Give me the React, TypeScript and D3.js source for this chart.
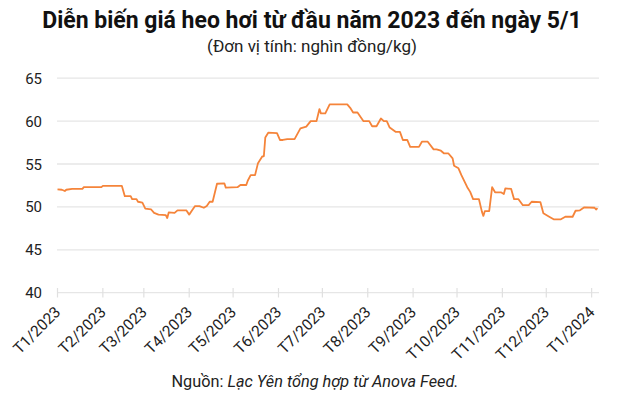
import React from "react";
import * as d3 from "d3";

const title = "Diễn biến giá heo hơi từ đầu năm 2023 đến ngày 5/1";
const subtitle = "(Đơn vị tính: nghìn đồng/kg)";
const sourceLabel = "Nguồn: ";
const sourceText = "Lạc Yên tổng hợp từ Anova Feed.";

const yTicks = [40, 45, 50, 55, 60, 65];
const xTickDates = [
  "2023-01-01", "2023-02-01", "2023-03-01", "2023-04-01", "2023-05-01", "2023-06-01",
  "2023-07-01", "2023-08-01", "2023-09-01", "2023-10-01", "2023-11-01", "2023-12-01", "2024-01-01",
];
const xTickLabels = [
  "T1/2023", "T2/2023", "T3/2023", "T4/2023", "T5/2023", "T6/2023",
  "T7/2023", "T8/2023", "T9/2023", "T10/2023", "T11/2023", "T12/2023", "T1/2024",
];

const dates = [
  "2023-01-01", "2023-01-04", "2023-01-06", "2023-01-07", "2023-01-11", "2023-01-18", "2023-01-19", "2023-01-31",
  "2023-02-01", "2023-02-14", "2023-02-16", "2023-02-20", "2023-02-21", "2023-02-24", "2023-02-25", "2023-02-28",
  "2023-03-02", "2023-03-06", "2023-03-08", "2023-03-11", "2023-03-16", "2023-03-17", "2023-03-18", "2023-03-22",
  "2023-03-24", "2023-03-30", "2023-04-01", "2023-04-03", "2023-04-05", "2023-04-08", "2023-04-11", "2023-04-13",
  "2023-04-15", "2023-04-17", "2023-04-20", "2023-04-25", "2023-04-26", "2023-05-04", "2023-05-06", "2023-05-10",
  "2023-05-11", "2023-05-13", "2023-05-16", "2023-05-18", "2023-05-21", "2023-05-22", "2023-05-23", "2023-05-25",
  "2023-05-31", "2023-06-02", "2023-06-04", "2023-06-07", "2023-06-12", "2023-06-16", "2023-06-20", "2023-06-23",
  "2023-06-27", "2023-06-29", "2023-06-30", "2023-07-03", "2023-07-06", "2023-07-18", "2023-07-20", "2023-07-22",
  "2023-07-25", "2023-07-29", "2023-08-02", "2023-08-04", "2023-08-07", "2023-08-10", "2023-08-12", "2023-08-14",
  "2023-08-16", "2023-08-20", "2023-08-23", "2023-08-25", "2023-08-28", "2023-08-30", "2023-09-05", "2023-09-07",
  "2023-09-11", "2023-09-15", "2023-09-17", "2023-09-20", "2023-09-22", "2023-09-25", "2023-09-28", "2023-09-29",
  "2023-10-02", "2023-10-04", "2023-10-08", "2023-10-10", "2023-10-12", "2023-10-16", "2023-10-18", "2023-10-19",
  "2023-10-20", "2023-10-23", "2023-10-25", "2023-10-27", "2023-10-31", "2023-11-02", "2023-11-03", "2023-11-07",
  "2023-11-09", "2023-11-12", "2023-11-15", "2023-11-19", "2023-11-21", "2023-11-27", "2023-11-29", "2023-12-03",
  "2023-12-06", "2023-12-11", "2023-12-14", "2023-12-19", "2023-12-21", "2023-12-24", "2023-12-27", "2024-01-03",
  "2024-01-04", "2024-01-05",
];
const prices = [
  52.05, 52.0, 51.85, 52.0, 52.1, 52.1, 52.3, 52.3,
  52.45, 52.45, 51.25, 51.25, 50.9, 50.9, 50.6, 50.5,
  49.8, 49.7, 49.3, 49.1, 49.05, 48.7, 49.35, 49.3,
  49.6, 49.6, 49.1, 49.6, 50.1, 50.1, 49.9, 50.1,
  50.6, 50.6, 52.7, 52.75, 52.25, 52.3, 52.55, 52.55,
  53.05, 53.7, 53.7, 55.1, 55.9, 55.9, 58.1, 58.65,
  58.6, 57.8, 57.8, 57.9, 57.9, 59.15, 59.35, 60.0,
  60.0, 61.4, 60.9, 60.9, 61.95, 61.95, 61.55, 61.0,
  61.0, 60.0, 60.0, 59.4, 59.4, 60.3, 60.0, 60.0,
  59.25, 58.75, 58.75, 57.8, 57.8, 57.0, 57.0, 57.6,
  57.6, 56.7, 56.7, 56.55, 56.25, 56.25, 55.65, 54.8,
  54.5, 53.7, 52.3, 51.75, 50.9, 50.9, 49.45, 48.95,
  49.5, 49.5, 52.3, 51.7, 51.7, 51.5, 52.15, 52.1,
  50.9, 50.9, 50.2, 50.2, 50.6, 50.55, 49.25, 48.85,
  48.55, 48.55, 48.85, 48.85, 49.55, 49.6, 49.95, 49.9,
  49.7, 49.85,
];

const W = 624;
const H = 415;
const parse = d3.timeParse("%Y-%m-%d");
const FONT = "Roboto, 'Noto Sans', sans-serif";

export default function App() {
  const x = d3
    .scaleTime()
    .domain([parse("2023-01-01")!, parse("2024-01-05")!])
    .range([57.5, 597.5]);
  const y = d3.scaleLinear().domain([40, 65]).range([292.7, 78.2]);
  const data = dates.map((d, i) => ({ date: parse(d)!, v: prices[i] }));
  const line = d3
    .line<{ date: Date; v: number }>()
    .x((d) => x(d.date))
    .y((d) => y(d.v));
  const gridX1 = 57;
  const gridX2 = 599;

  return (
    <svg
      width={W}
      height={H}
      style={{ position: "absolute", left: 0, top: 0, background: "#fff" }}
      fontFamily={FONT}
    >
      <text x={312} y={28} textAnchor="middle" fontSize={23} fontWeight={700} fill="#111">
        {title}
      </text>
      <text x={312} y={52} textAnchor="middle" fontSize={17} fill="#222">
        {subtitle}
      </text>
      {yTicks.map((t) => (
        <g key={t}>
          <line x1={gridX1} x2={gridX2} y1={y(t)} y2={y(t)} stroke="#e6e6e6" strokeWidth={1.3} />
          <text x={42} y={y(t) + 5.5} textAnchor="end" fontSize={15} fill="#222">
            {t}
          </text>
        </g>
      ))}
      {xTickDates.map((d, i) => {
        const px = x(parse(d)!);
        return (
          <g key={d}>
            <line x1={px} x2={px} y1={288} y2={297.5} stroke="#e0e0e0" strokeWidth={1.2} />
            <text
              transform={`translate(${px + 4},${313}) rotate(-45)`}
              textAnchor="end"
              fontSize={15.5}
              fill="#222"
            >
              {xTickLabels[i]}
            </text>
          </g>
        );
      })}
      <path d={line(data) || ""} fill="none" stroke="#f5843a" strokeWidth={1.8} strokeLinejoin="round" />
      <text x={315} y={387} textAnchor="middle" fontSize={16.3} fill="#222">
        {sourceLabel}
        <tspan fontStyle="italic">{sourceText}</tspan>
      </text>
    </svg>
  );
}
